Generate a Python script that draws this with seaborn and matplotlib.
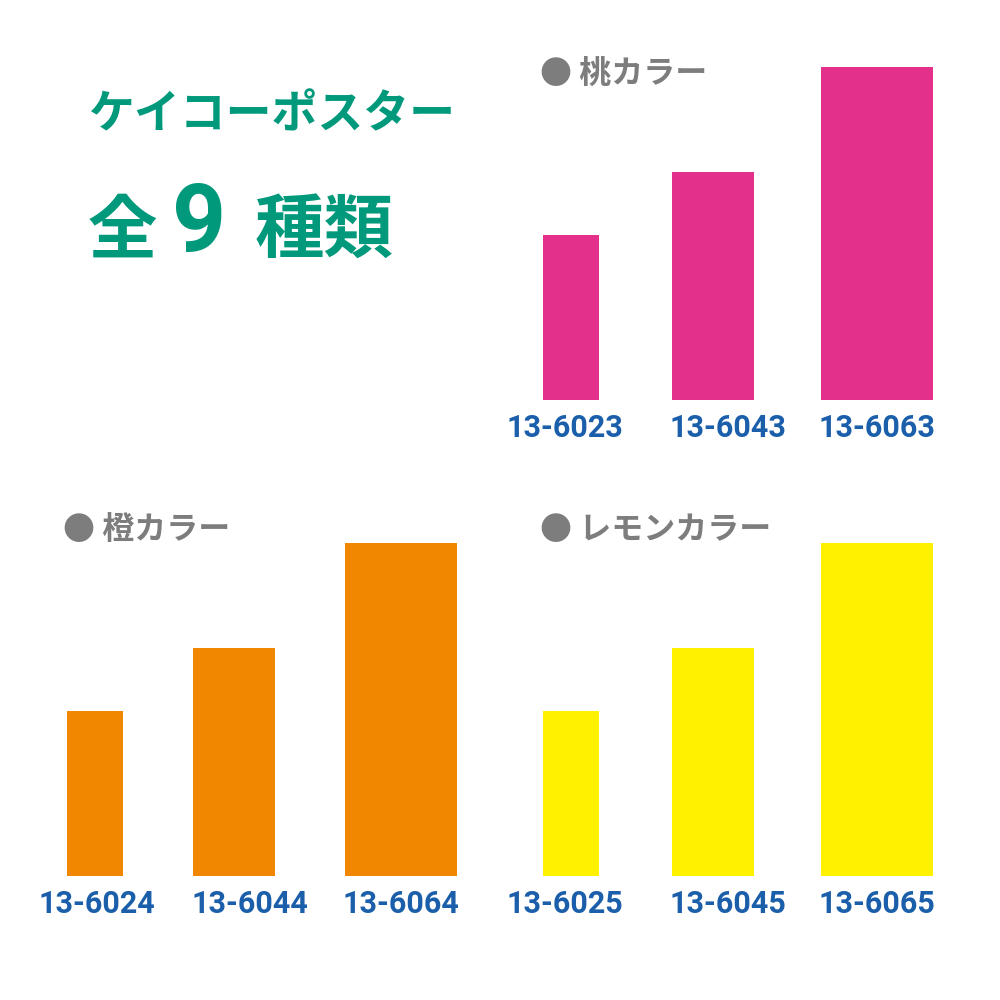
import matplotlib
matplotlib.use("Agg")
from matplotlib import pyplot as plt
import seaborn as sns

sns.set_theme(style="white")
plt.rcParams['font.family'] = ['Noto Sans CJK JP', 'DejaVu Sans']

# 3グループ（桃・橙・レモン）のポスター（ピクセル単位で読み取り）
groups = ["● 桃カラー", "● 橙カラー", "● レモンカラー"]
codes = [["13-6023", "13-6043", "13-6063"],
         ["13-6024", "13-6044", "13-6064"],
         ["13-6025", "13-6045", "13-6065"]]
heights = [165, 228, 333]
widths = [56, 82, 112]
colors = ["#e3308a", "#f18700", "#fff100"]

# 配置
centers = [[571, 713, 877], [95, 234, 401], [571, 713, 877]]
label_x = [[565, 728, 877], [97, 250, 401], [565, 728, 877]]
baselines = [400, 876, 876]
title_pos = [(540, 75), (63, 530), (540, 530)]

fig = plt.figure(figsize=(10, 10), dpi=100)
ax = fig.add_axes([0, 0, 1, 1])
ax.set_xlim(0, 1000)
ax.set_ylim(1000, 0)
ax.set_axis_off()

for g in range(3):
    ax.bar(centers[g], [-h for h in heights], width=widths, bottom=baselines[g],
           color=colors[g], linewidth=0)
    for x, c in zip(label_x[g], codes[g]):
        ax.text(x, baselines[g] + 28, c, ha="center", va="center", fontsize=22,
                fontweight="bold", color="#1b5fab", family=["Roboto", "DejaVu Sans"])
    tx, ty = title_pos[g]
    ax.text(tx, ty, groups[g], ha="left", va="center", fontsize=23,
            fontweight="bold", color="#7d7d7d")

ax.text(88, 115, "ケイコーポスター", ha="left", va="center", fontsize=33,
        fontweight="bold", color="#00997b")
ax.text(88, 232, "全", ha="left", va="center", fontsize=50,
        fontweight="bold", color="#00997b")
ax.text(172, 225, "9", ha="left", va="center", fontsize=68,
        fontweight="bold", color="#00997b", family=["Roboto", "DejaVu Sans"])
ax.text(255, 232, "種類", ha="left", va="center", fontsize=50,
        fontweight="bold", color="#00997b")

plt.savefig("out.png", dpi=100)
